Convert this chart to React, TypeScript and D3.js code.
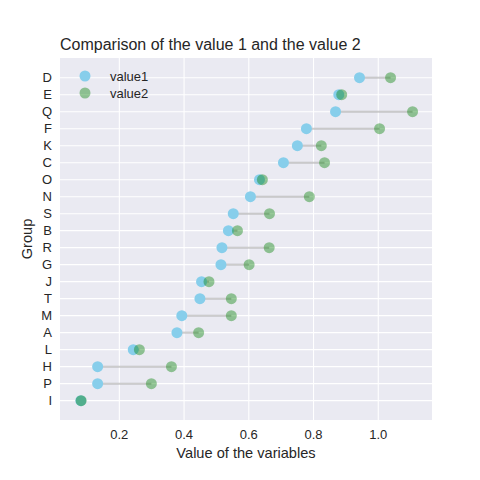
import React from 'react';
import * as d3 from 'd3';

const groups = ['D', 'E', 'Q', 'F', 'K', 'C', 'O', 'N', 'S', 'B', 'R', 'G', 'J', 'T', 'M', 'A', 'L', 'H', 'P', 'I'];
const value1 = [0.942, 0.878, 0.868, 0.778, 0.75, 0.707, 0.633, 0.605, 0.552, 0.537, 0.517, 0.514, 0.454, 0.449, 0.393, 0.378, 0.243, 0.133, 0.133, 0.081];
const value2 = [1.038, 0.887, 1.106, 1.004, 0.824, 0.834, 0.642, 0.787, 0.664, 0.565, 0.663, 0.601, 0.477, 0.546, 0.546, 0.445, 0.262, 0.361, 0.299, 0.082];
const xTicks = [0.2, 0.4, 0.6, 0.8, 1.0];

const W = 480;
const H = 480;
const m = { left: 60, right: 48, top: 58, bottom: 60 };
const font = 'Arial, "Liberation Sans", sans-serif';

export default function App() {
  const x = d3.scaleLinear().domain([0.0167, 1.166]).range([m.left, W - m.right]);
  // row index counted from the bottom (I = 0)
  const y = d3.scaleLinear().domain([-1.14, groups.length - 1 + 1.16]).range([H - m.bottom, m.top]);
  const n = groups.length;
  const rowY = (i: number) => y(n - 1 - i);

  return (
    <svg width={W} height={H} style={{ position: 'absolute', left: 0, top: 0, background: '#fff' }}>
      <rect x={m.left} y={m.top} width={W - m.left - m.right} height={H - m.top - m.bottom} fill="#EAEAF2" />
      {xTicks.map((t) => (
        <line key={`gx${t}`} x1={x(t)} x2={x(t)} y1={m.top} y2={H - m.bottom} stroke="#fff" strokeWidth={1.1} />
      ))}
      {groups.map((g, i) => (
        <line key={`gy${g}`} x1={m.left} x2={W - m.right} y1={rowY(i)} y2={rowY(i)} stroke="#fff" strokeWidth={1.1} />
      ))}
      {groups.map((g, i) => (
        <line
          key={`l${g}`}
          x1={x(value1[i])}
          x2={x(value2[i])}
          y1={rowY(i)}
          y2={rowY(i)}
          stroke="grey"
          strokeOpacity={0.4}
          strokeWidth={2}
        />
      ))}
      {groups.map((g, i) => (
        <circle key={`a${g}`} cx={x(value1[i])} cy={rowY(i)} r={5.5} fill="skyblue" />
      ))}
      {groups.map((g, i) => (
        <circle key={`b${g}`} cx={x(value2[i])} cy={rowY(i)} r={5.5} fill="green" fillOpacity={0.4} />
      ))}
      <g fontFamily={font} fontSize={13} fill="#262626">
        {groups.map((g, i) => (
          <text key={`t${g}`} x={m.left - 8} y={rowY(i)} dy="0.36em" textAnchor="end">
            {g}
          </text>
        ))}
        {xTicks.map((t) => (
          <text key={`xt${t}`} x={x(t)} y={H - m.bottom + 19} textAnchor="middle">
            {t.toFixed(1)}
          </text>
        ))}
        <text x={(m.left + W - m.right) / 2} y={H - m.bottom + 38} textAnchor="middle" fontSize={14.6}>
          Value of the variables
        </text>
        <text transform={`translate(32,${(m.top + H - m.bottom) / 2}) rotate(-90)`} textAnchor="middle" fontSize={14.6}>
          Group
        </text>
        <text x={m.left} y={m.top - 8} fontSize={16}>
          Comparison of the value 1 and the value 2
        </text>
        <circle cx={85} cy={76} r={5.5} fill="skyblue" />
        <circle cx={85} cy={93} r={5.5} fill="green" fillOpacity={0.4} />
        <text x={110} y={76} dy="0.36em">value1</text>
        <text x={110} y={93} dy="0.36em">value2</text>
      </g>
    </svg>
  );
}
